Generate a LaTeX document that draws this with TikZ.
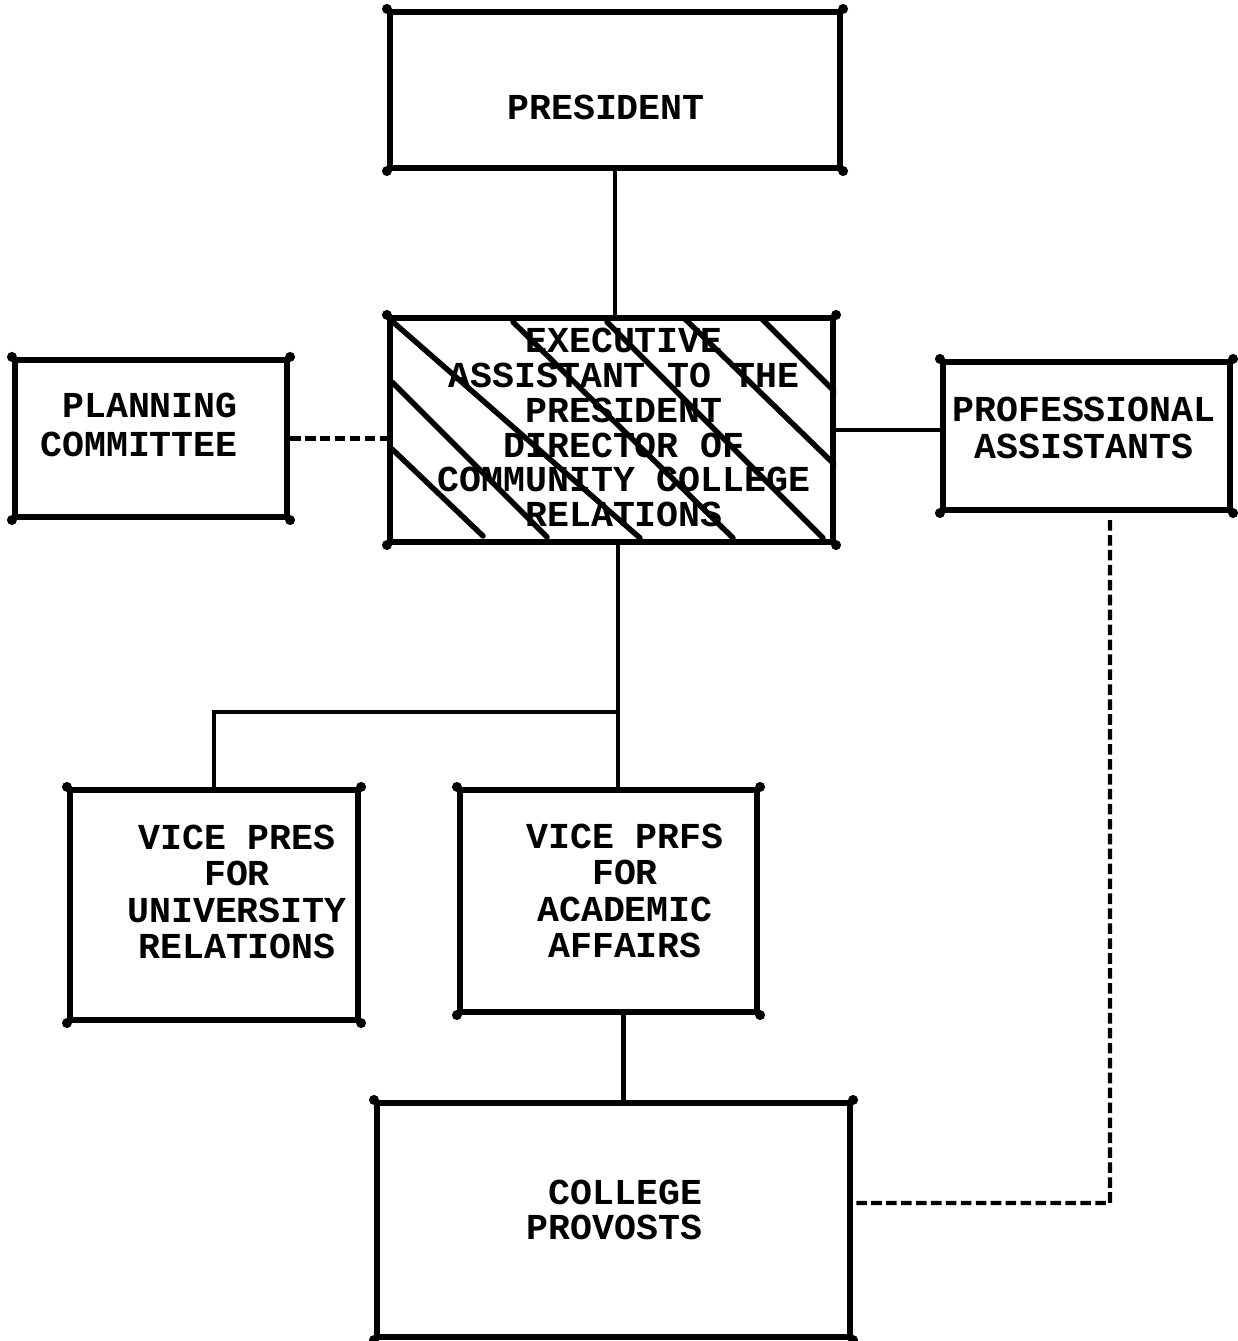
\documentclass[tikz,border=0pt]{standalone}
\usepackage{fontspec}
\setmainfont{Liberation Mono}
\usetikzlibrary{positioning}

\begin{document}
\begin{tikzpicture}[
        font=\bfseries\fontsize{20.8}{20.6}\selectfont,
        box/.style={draw, line width=3.5pt, inner sep=0pt},
        txt/.style={align=center, inner sep=0pt},
        link/.style={line width=2.8pt},
        dashlink/.style={line width=2.4pt, dash pattern=on 6pt off 2.5pt},
        hatch/.style={line width=3.1pt, line cap=round}
    ]
    \useasboundingbox (0,0) rectangle (24.74,26.82);

    % ==============================
    % Boxes
    % ==============================
    \node[box, minimum width=9.0cm, minimum height=3.12cm] (pres) at (12.30,25.02) {};
    \node[box, minimum width=8.86cm, minimum height=4.48cm] (exec) at (12.23,18.22) {};
    \node[box, minimum width=5.44cm, minimum height=3.14cm] (plan) at (3.02,18.05) {};
    \node[box, minimum width=5.74cm, minimum height=2.96cm] (prof) at (21.73,18.10) {};
    \node[box, minimum width=5.76cm, minimum height=4.60cm] (vpu) at (4.28,8.72) {};
    \node[box, minimum width=5.94cm, minimum height=4.44cm] (vpa) at (12.17,8.80) {};
    \node[box, minimum width=9.46cm, minimum height=4.68cm] (prov) at (12.27,2.42) {};

    % corner blobs
    \foreach \n in {pres, exec, plan, prof, vpu, vpa, prov}
        \foreach \c in {north west, north east, south west, south east}
            \fill (\n.\c) circle (0.1);

    % ==============================
    % Texts
    % ==============================
    \node[txt] (pres-txt) at (12.12,24.68) {PRESIDENT};
    \node[txt, font=\bfseries\fontsize{20.8}{19.9}\selectfont] (exec-txt) at (12.48,18.27)
        {EXECUTIVE\\ASSISTANT TO THE\\PRESIDENT\\DIRECTOR OF\\COMMUNITY COLLEGE\\RELATIONS};
    \node[txt, align=right, font=\bfseries\fontsize{20.8}{22.7}\selectfont] (plan-txt) at (2.78,18.32) {PLANNING\\COMMITTEE};
    \node[txt] (prof-txt) at (21.68,18.26) {PROFESSIONAL\\ASSISTANTS};
    \node[txt] (vpu-txt) at (4.74,8.98) {VICE PRES\\FOR\\UNIVERSITY\\RELATIONS};
    \node[txt] (vpa-txt) at (12.50,9.00) {VICE PRFS\\FOR\\ACADEMIC\\AFFAIRS};
    \node[txt, align=right, font=\bfseries\fontsize{20.8}{19.9}\selectfont] (prov-txt) at (12.29,2.63) {COLLEGE\\PROVOSTS};

    % hatching of the executive box
    \begin{scope}
        \clip (exec.north west) rectangle (exec.south east);
        \foreach \xa/\ya/\xb/\yb in {7.84/17.84/9.66/16.10, 7.84/19.18/10.94/16.08, 7.86/20.38/12.80/16.06,
                           10.26/20.38/14.66/16.06, 12.14/20.38/16.46/16.06,
                           13.70/20.44/16.70/17.52, 15.24/20.44/16.70/18.98}
            \draw[hatch] (\xa,\ya) -- (\xb,\yb);
    \end{scope}

    % ==============================
    % Connectors
    % ==============================
    \coordinate (j) at (12.36,12.58);
    \coordinate (bend) at (22.20,2.76);

    \draw[link] (pres.south) -- (pres.south |- exec.north);
    \draw[link] (exec.east) -- (exec.east -| prof.west);
    \draw[dashlink] (plan.east) -- (plan.east -| exec.west);

    \draw[link] (exec.south -| j) -- (j |- vpa.north);
    \draw[link] (j) -| (vpu.north);
    \draw[link] ([xshift=0.3cm]vpa.south) -- ([xshift=0.3cm]vpa.south |- prov.north);

    \draw[dashlink] ([xshift=0.47cm,yshift=-0.14cm]prof.south) -- (bend) -- (bend -| prov.east);

\end{tikzpicture}
\end{document}
